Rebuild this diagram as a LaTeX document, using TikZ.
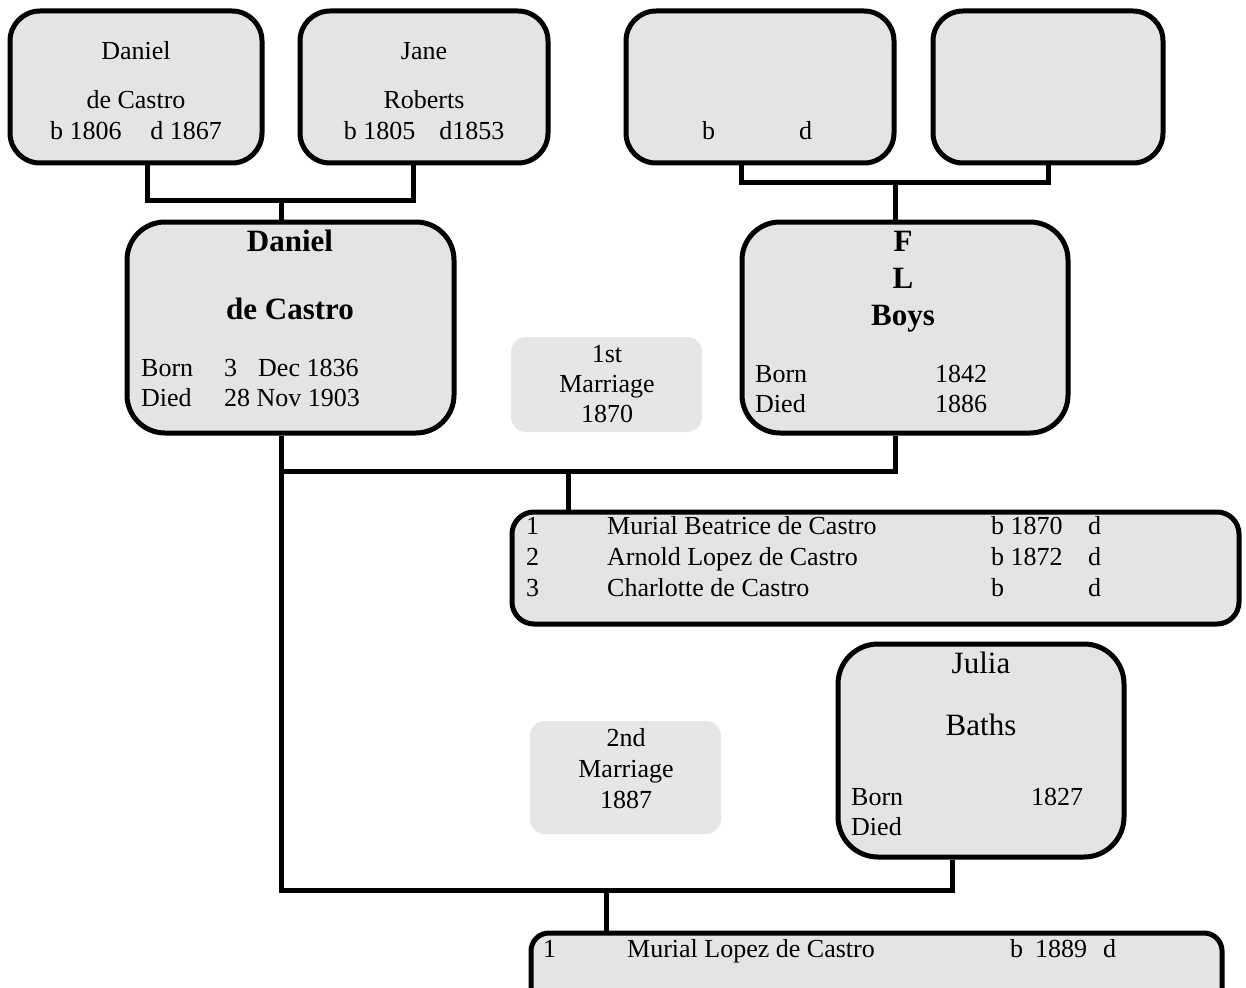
\documentclass[tikz,border=0pt]{standalone}
\usepackage{fontspec}
\setmainfont{Liberation Serif}
\definecolor{boxgray}{HTML}{E4E4E4}
\definecolor{notegray}{HTML}{E6E6E6}
\begin{document}
\begin{tikzpicture}[x=1pt,y=-1pt,
  person/.style={draw=black,line width=5pt,fill=boxgray,inner sep=0pt,
    rectangle,rounded corners=#1},
  person/.default=30pt,
  note/.style={fill=notegray,inner sep=0pt,rectangle,rounded corners=15pt,
    minimum width=191pt},
  conn/.style={draw=black,line width=5pt},
  txt/.style={inner sep=0pt,font=\fontsize{26}{30}\selectfont},
  big/.style={inner sep=0pt,font=\fontsize{31}{36}\selectfont},
  bigb/.style={inner sep=0pt,font=\fontsize{31}{36}\selectfont\bfseries},
]
\useasboundingbox (0,0) rectangle (1246,987);
\begin{scope}
\clip (0,0) rectangle (1246,987);

% boxes
\node[person, minimum width=252pt, minimum height=152pt] (A) at (136,87) {};
\node[person, minimum width=248pt, minimum height=152pt] (B) at (424,87) {};
\node[person, minimum width=268pt, minimum height=152pt] (D) at (760,87) {};
\node[person, minimum width=230pt, minimum height=152pt] (E) at (1048,87) {};
\node[person=38pt, minimum width=327pt, minimum height=211pt] (C) at (290.5,327.5) {};
\node[person=38pt, minimum width=326pt, minimum height=211pt] (F) at (905,327.5) {};
\node[note, minimum height=95pt] (M1) at (606.5,384.5) {};
\node[person=22pt, minimum width=727pt, minimum height=112pt] (K1) at (875.5,568) {};
\node[person=40pt, minimum width=286pt, minimum height=213pt] (J) at (981,750.5) {};
\node[note, minimum height=113pt] (M2) at (625.5,777.5) {};
\node[person=18pt, minimum width=691pt, minimum height=120pt] (K2) at (876.5,993) {};

% connectors
\coordinate (jAB) at (281,200);
\coordinate (jDE) at (895,182);
\coordinate (j1) at (568,471);
\coordinate (j2) at (606,890);
\draw[conn] ([xshift=11pt]A.south) |- (jAB) -| ([xshift=-11pt]B.south);
\draw[conn] (jAB) -- (jAB |- C.north);
\draw[conn] ([xshift=-19pt]D.south) |- (jDE) -| (E.south);
\draw[conn] (jDE) -- (jDE |- F.north);
\draw[conn] ([xshift=-9.5pt]C.south) |- (j1) -| ([xshift=-10pt]F.south);
\draw[conn] (j1) -- (j1 |- K1.north);
\draw[conn] ([xshift=-9.5pt]C.south) |- (j2) -| ([xshift=-29pt]J.south);
\draw[conn] (j2) -- (j2 |- K2.north);

% parents of Daniel de Castro
\node[txt, anchor=base] (a1) at (136,60) {Daniel};
\node[txt, anchor=base] (a2) at (136,109) {de Castro};
\node[txt, anchor=base] (a3) at (136,140) {b 1806\hspace{29pt}d 1867};
\node[txt, anchor=base] (b1) at (424,60) {Jane};
\node[txt, anchor=base] (b2) at (424,109) {Roberts};
\node[txt, anchor=base] (b3) at (424,140) {b 1805\hspace{24pt}d1853};
\node[txt, anchor=base west] (d1) at (702,140) {b\hspace{84pt}d};

% Daniel de Castro
\node[bigb, anchor=base] (c1) at (290,251) {Daniel};
\node[bigb, anchor=base] (c2) at (290,319) {de Castro};
\node[txt, anchor=base west] (c3) at (141,376)
  {\makebox[83pt][l]{Born}\makebox[34pt][l]{3}Dec 1836};
\node[txt, anchor=base west] (c4) at (141,406)
  {\makebox[83pt][l]{Died}28 Nov 1903};

% F L Boys
\node[bigb, anchor=base] (f1) at (903,251) {F};
\node[bigb, anchor=base] (f2) at (903,288) {L};
\node[bigb, anchor=base] (f3) at (903,325) {Boys};
\node[txt, anchor=base west] (f4) at (755,382) {\makebox[180pt][l]{Born}1842};
\node[txt, anchor=base west] (f5) at (755,412) {\makebox[180pt][l]{Died}1886};

% first marriage
\node[txt, anchor=base] (m11) at (607,362) {1st};
\node[txt, anchor=base] (m12) at (607,392) {Marriage};
\node[txt, anchor=base] (m13) at (607,422) {1870};

% children of the first marriage
\node[txt, anchor=base west] (k11) at (526,534)
  {\makebox[81pt][l]{1}\makebox[384pt][l]{Murial Beatrice de Castro}\makebox[97pt][l]{b 1870}d};
\node[txt, anchor=base west] (k12) at (526,565)
  {\makebox[81pt][l]{2}\makebox[384pt][l]{Arnold Lopez de Castro}\makebox[97pt][l]{b 1872}d};
\node[txt, anchor=base west] (k13) at (526,596)
  {\makebox[81pt][l]{3}\makebox[384pt][l]{Charlotte de Castro}\makebox[97pt][l]{b}d};

% Julia Baths
\node[big, anchor=base] (j1t) at (981,673) {Julia};
\node[big, anchor=base] (j2t) at (981,735) {Baths};
\node[txt, anchor=base west] (j3t) at (851,805) {\makebox[180pt][l]{Born}1827};
\node[txt, anchor=base west] (j4t) at (851,835) {Died};

% second marriage
\node[txt, anchor=base] (m21) at (626,746) {2nd};
\node[txt, anchor=base] (m22) at (626,777) {Marriage};
\node[txt, anchor=base] (m23) at (626,808) {1887};

% child of the second marriage
\node[txt, anchor=base west] (k21) at (543,957)
  {\makebox[84pt][l]{1}\makebox[383pt][l]{Murial Lopez de Castro}b\hspace{12pt}1889\hspace{16pt}d};
\end{scope}
\end{tikzpicture}
\end{document}
